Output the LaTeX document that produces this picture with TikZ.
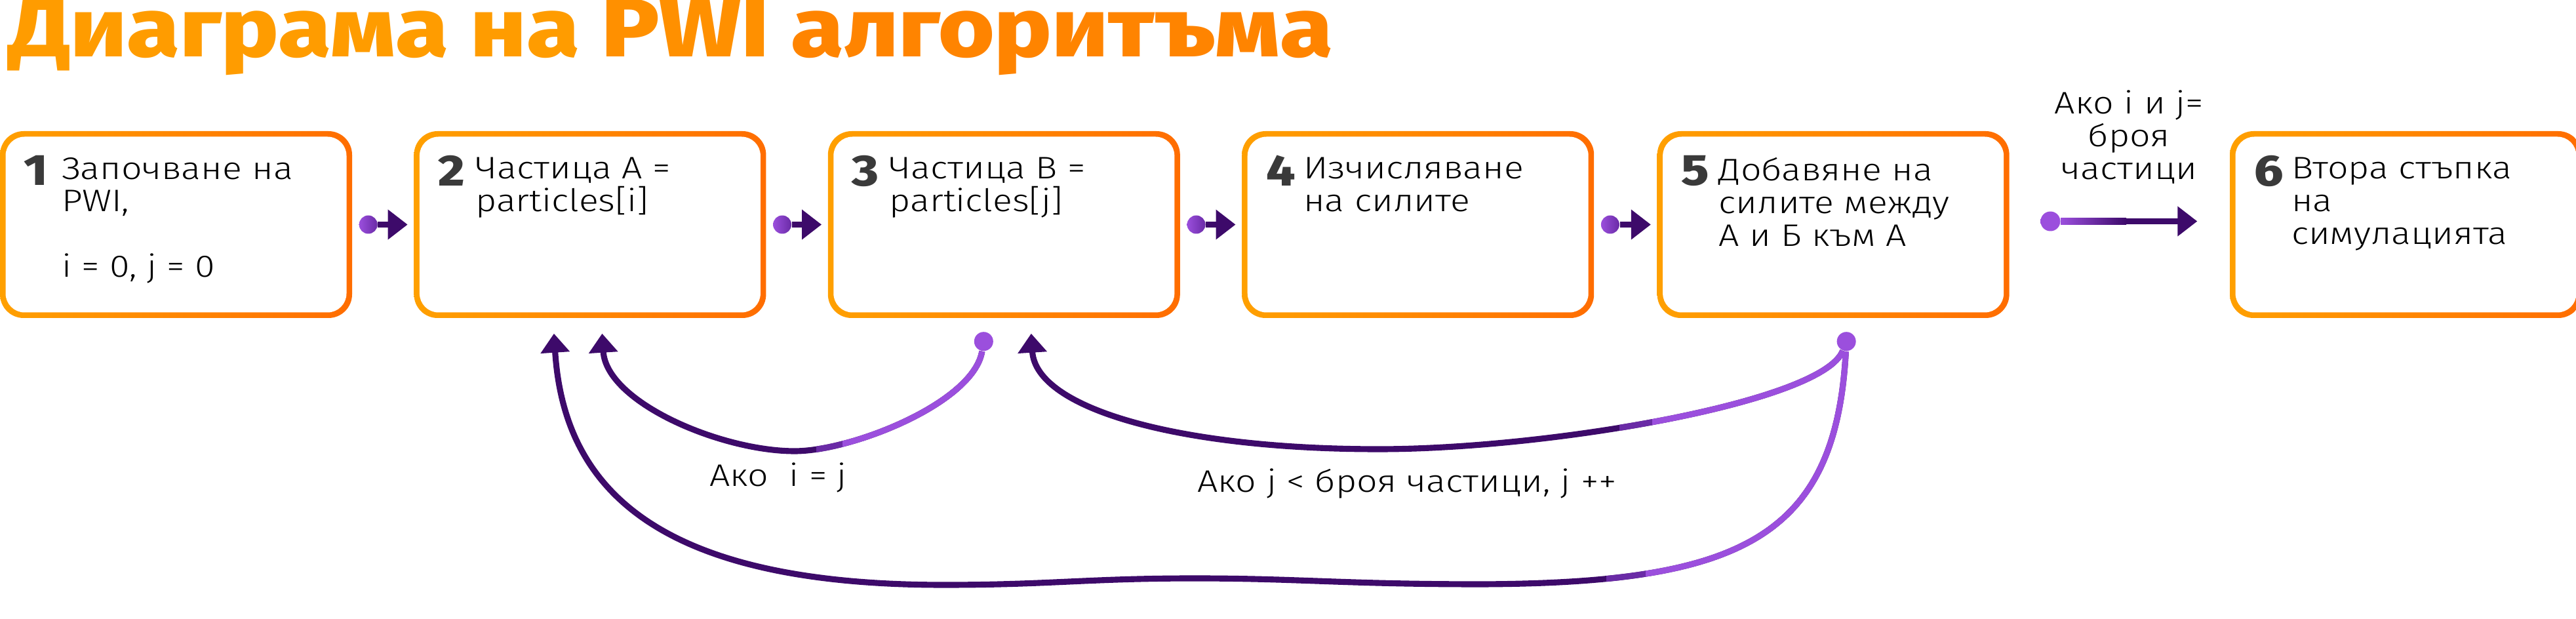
\documentclass[tikz,border=0pt]{standalone}
\usepackage{fontspec}
\IfFontExistsTF{Fira Sans Light}
  {\setmainfont{Fira Sans Light}[BoldFont={Fira Sans Bold}, FakeStretch=1.17]}
  {\setmainfont{Open Sans}[FakeStretch=1.12]}
\IfFontExistsTF{Fira Sans ExtraBold}
  {\newfontfamily\headfont{Fira Sans ExtraBold}[FakeStretch=1.16]}
  {\newfontfamily\headfont{Open Sans Bold}[FakeStretch=1.08]}
\usetikzlibrary{positioning,arrows.meta}

\definecolor{amber}{HTML}{FFA000}
\definecolor{deeporange}{HTML}{FF6D00}
\definecolor{titleA}{HTML}{FF9C00}
\definecolor{titleB}{HTML}{FF9000}
\definecolor{titleC}{HTML}{FF8400}
\definecolor{numgray}{HTML}{3A3A3A}
\definecolor{darkpurple}{HTML}{3D0A6A}
\definecolor{midpurple}{HTML}{6A2BA6}
\definecolor{lightpurple}{HTML}{9B4FDD}

\tikzset{
  stepbox/.style={minimum width=5.37cm, minimum height=2.85cm, rounded corners=0.36cm,
    path picture={
      \shade[left color=amber, right color=deeporange] (path picture bounding box.south west) rectangle (path picture bounding box.north east);
      \fill[white, rounded corners=0.29cm] ([shift={(0.085,0.085)}]path picture bounding box.south west) rectangle ([shift={(-0.085,-0.085)}]path picture bounding box.north east);
    }},
  titletext/.style={anchor=base west, inner sep=0pt, text=titleB, font=\fontsize{36}{36}\headfont},
  stepnum/.style={inner sep=0pt, text=numgray, font=\fontsize{19}{19}\headfont},
  steptext/.style={inner sep=0pt, align=left, font=\fontsize{13.5}{14.2}\selectfont},
  pdot/.style={circle, inner sep=0pt, minimum size=0.28cm, left color=lightpurple, right color=midpurple},
  enddot/.style={circle, inner sep=0pt, minimum size=0.29cm, fill=lightpurple},
  link/.style={draw=darkpurple, line width=2.8pt, -{Triangle[length=0.30cm, width=0.44cm]}},
  loopline/.style={draw=darkpurple, line width=2.6pt, -{Triangle[length=0.29cm, width=0.43cm]}},
}

% curved back links
\newcommand\loopA{(r3) .. controls (14.85,3.3) and (13.0,2.56) .. (12.12,2.56) .. controls (11.0,2.56) and (9.25,3.3) .. (u2b)}
\newcommand\loopB{(r5) .. controls (27.8,3.3) and (23.6,2.59) .. (21.03,2.59) .. controls (18.0,2.59) and (15.8,3.2) .. (u3)}
\newcommand\loopC{(r5) .. controls (28.0,1.2) and (26.5,0.55) .. (22.6,0.53) .. controls (20.5,0.53) and (19.8,0.62) .. (18.22,0.62) .. controls (16.6,0.62) and (16.0,0.52) .. (14.4,0.52) .. controls (10.0,0.52) and (8.6,2.0) .. (u2a)}

\begin{document}
\begin{tikzpicture}
\useasboundingbox (0,0) rectangle (39.29,9.44);

\node[titletext] (title) at (0.13,8.57) {\textcolor{titleA}{Диаграма на} PWI \textcolor{titleC}{алгоритъма}};

% the six steps
\node[stepbox] (s1) at (2.685,6.015) {};
\node[stepbox, right=0.93 of s1] (s2) {};
\node[stepbox, right=0.93 of s2] (s3) {};
\node[stepbox, right=0.93 of s3] (s4) {};
\node[stepbox, right=0.95 of s4] (s5) {};
\node[stepbox, right=3.35 of s5] (s6) {};

\node[stepnum, below right=0.37 and 0.37 of s1.north west] (n1) {1};
\node[steptext, below right=0.40 and 0.94 of s1.north west] (t1) {Започване на\\PWI,\\[14.2pt]i = 0, j = 0};
\node[stepnum, below right=0.37 and 0.37 of s2.north west] (n2) {2};
\node[steptext, below right=0.40 and 0.94 of s2.north west] (t2) {Частица А =\\particles[i]};
\node[stepnum, below right=0.37 and 0.37 of s3.north west] (n3) {3};
\node[steptext, below right=0.40 and 0.94 of s3.north west] (t3) {Частица В =\\particles[j]};
\node[stepnum, below right=0.37 and 0.37 of s4.north west] (n4) {4};
\node[steptext, below right=0.40 and 0.94 of s4.north west] (t4) {Изчисляване\\на силите};
\node[stepnum, below right=0.37 and 0.37 of s5.north west] (n5) {5};
\node[steptext, below right=0.40 and 0.94 of s5.north west] (t5) {Добавяне на\\силите между\\А и Б към А};
\node[stepnum, below right=0.37 and 0.37 of s6.north west] (n6) {6};
\node[steptext, below right=0.40 and 0.94 of s6.north west] (t6) {Втора стъпка\\на\\симулацията};

% forward links
\node[pdot] (p1) at ([xshift=0.24cm]s1.east) {};
\node[pdot] (p2) at ([xshift=0.24cm]s2.east) {};
\node[pdot] (p3) at ([xshift=0.24cm]s3.east) {};
\node[pdot] (p4) at ([xshift=0.24cm]s4.east) {};
\draw[link] (p1) -- ([xshift=-0.09cm]s2.west);
\draw[link] (p2) -- ([xshift=-0.09cm]s3.west);
\draw[link] (p3) -- ([xshift=-0.09cm]s4.west);
\draw[link] (p4) -- ([xshift=-0.09cm]s5.west);

\node[pdot, minimum size=0.30cm, right color=lightpurple] (p5) at ([xshift=0.62cm, yshift=0.05cm]s5.east) {};
\coordinate (q6) at ([xshift=-0.49cm, yshift=0.05cm]s6.west);
\draw[link] (p5) -- (q6) node[midway, above=0.52cm, steptext, align=center] (cond) {Ако i и j=\\броя\\частици};
\shade[left color=lightpurple, right color=darkpurple] ([yshift=-1.4pt]p5.east) rectangle ([xshift=1.0cm, yshift=1.4pt]p5.east);

% back links
\node[enddot] (r3) at ([xshift=-0.31cm, yshift=-0.35cm]s3.south) {};
\node[enddot] (r5) at ([xshift=0.20cm, yshift=-0.35cm]s5.south) {};
\coordinate (u2a) at ([xshift=-0.55cm, yshift=-0.23cm]s2.south);
\coordinate (u2b) at ([xshift=0.185cm, yshift=-0.23cm]s2.south);
\coordinate (u3) at ([xshift=0.415cm, yshift=-0.23cm]s3.south);

\draw[loopline] \loopA;
\draw[loopline] \loopB;
\draw[loopline] \loopC;
\begin{scope}
  \clip (12.45,2) rectangle (12.85,4.6);
  \draw[loopline, draw=midpurple] \loopA;
\end{scope}
\begin{scope}
  \clip (12.85,2) rectangle (15.5,4.6);
  \draw[loopline, draw=lightpurple] \loopA;
\end{scope}
\begin{scope}
  \clip (24.7,2) rectangle (25.2,4.6);
  \draw[loopline, draw=midpurple] \loopB;
\end{scope}
\begin{scope}
  \clip (25.2,2) rectangle (28.6,4.6);
  \draw[loopline, draw=lightpurple] \loopB;
\end{scope}
\begin{scope}
  \clip (24.5,0) rectangle (25.1,4.6);
  \draw[loopline, draw=midpurple] \loopC;
\end{scope}
\begin{scope}
  \clip (25.1,0) rectangle (28.6,4.6);
  \draw[loopline, draw=lightpurple] \loopC;
\end{scope}

\node[steptext, anchor=north] (ifA) at (11.87,2.39) {Ако~~i = j};
\node[steptext, anchor=north] (ifB) at (21.46,2.30) {Ако j < броя частици, j ++};
\end{tikzpicture}
\end{document}
